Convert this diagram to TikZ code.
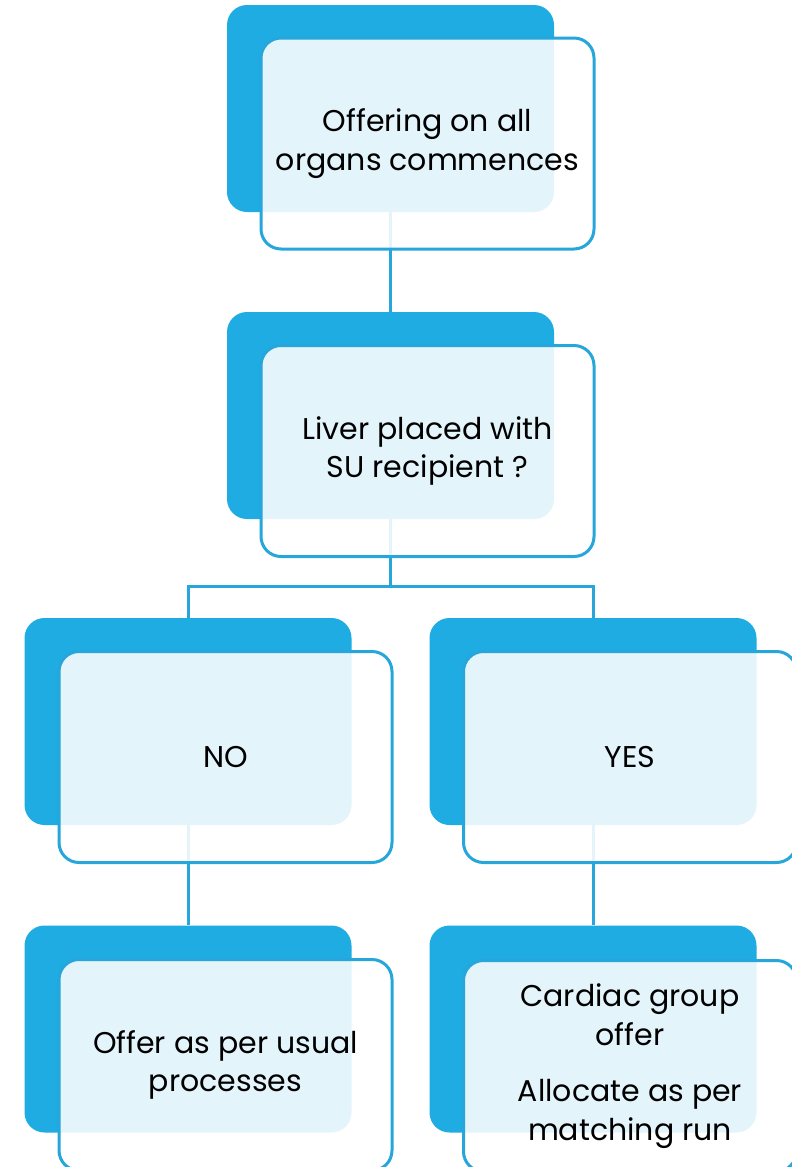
\documentclass[tikz,border=0pt]{standalone}
\usepackage{fontspec}
\setmainfont{Poppins}
\usepackage{xcolor}
\definecolor{odtBlue}{RGB}{30, 172, 226}
\definecolor{odtLine}{RGB}{38, 166, 218}
\usepackage{tikz}
\usetikzlibrary{positioning}

\begin{document}
\begin{tikzpicture}[x=1pt, y=1pt,
  back/.style={rectangle, rounded corners=20pt, fill=odtBlue,
               minimum width=327pt, minimum height=207pt, inner sep=0pt},
  front/.style={rectangle, rounded corners=20pt, draw=odtLine, line width=3pt,
                fill=white, fill opacity=0.88, text opacity=1,
                minimum width=333pt, minimum height=211pt, inner sep=0pt,
                align=center, font=\fontsize{30}{38.5}\selectfont},
  link/.style={draw=odtLine, line width=3pt},
]
  \useasboundingbox (0,0) rectangle (792,-1167);

  % Back panels
  \node[back] (startbg)   at (390.5,-108.5)  {};
  \node[back] (liverbg)   at (390.5,-415.5)  {};
  \node[back] (nobg)      at (188,-721.5)    {};
  \node[back] (yesbg)     at (593,-721.5)    {};
  \node[back] (usualbg)   at (188,-1029)     {};
  \node[back] (cardiacbg) at (593,-1029)     {};

  % Connectors
  \draw[link] (startbg.south) -- (liverbg.north);
  \draw[link] (liverbg.south) -- (390.5,-586) coordinate (fork);
  \draw[link] (fork) -| (nobg.north);
  \draw[link] (fork) -| (yesbg.north);
  \draw[link] (nobg.south) -- (usualbg.north);
  \draw[link] (yesbg.south) -- (cardiacbg.north);

  % Front panels
  \node[front] (start)   at (427.5,-143.5) {Offering on all\\organs commences};
  \node[front] (liver)   at (427.5,-451)   {Liver placed with\\SU recipient ?};
  \node[front] (no)      at (225.5,-757)   {NO};
  \node[front] (yes)     at (630,-757)     {YES};
  \node[front] (usual)   at (225.5,-1065)  {Offer as per usual\\processes};
  \node[front] (cardiac) at (630,-1066)    {Cardiac group\\offer\\[18pt]Allocate as per\\matching run};

\end{tikzpicture}
\end{document}
